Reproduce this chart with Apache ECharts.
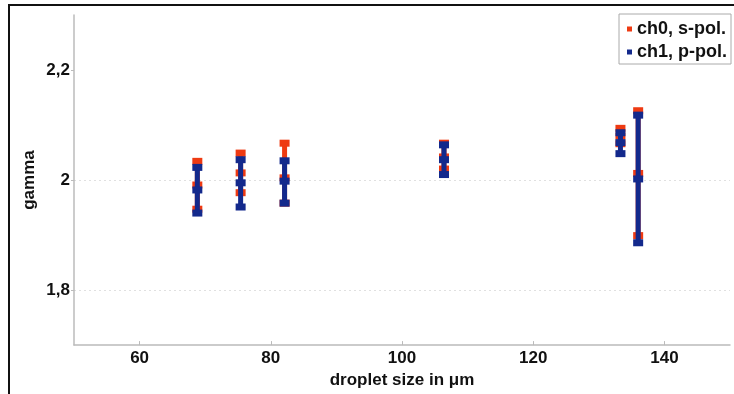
<!DOCTYPE html>
<html><head><meta charset="utf-8">
<script src="https://cdn.jsdelivr.net/npm/echarts@6/dist/echarts.min.js"></script>
<style>html,body{margin:0;padding:0;background:#fff}#c{width:734px;height:394px}</style>
</head><body><div id="c"></div>
<script>
var xValues   = [68.8, 75.4, 82.1, 106.4, 133.3, 136.0];
var ch0Center = [1.991, 2.013, 2.004, 2.042, 2.080, 2.012];
var ch0Low    = [1.947, 1.977, 1.958, 2.020, 2.066, 1.899];
var ch0High   = [2.034, 2.049, 2.067, 2.067, 2.094, 2.126];
var ch1Center = [1.982, 1.995, 1.998, 2.037, 2.068, 2.002];
var ch1Low    = [1.940, 1.951, 1.958, 2.010, 2.048, 1.886];
var ch1High   = [2.023, 2.037, 2.035, 2.064, 2.086, 2.118];
var xTicks = [60, 80, 100, 120, 140];
var yTicks = [1.8, 2, 2.2];
var seriesNames = ['ch0, s-pol.', 'ch1, p-pol.'];
var colors = ['#ee3a12', '#13298c'];
var FONT = "'Liberation Sans Narrow','Liberation Sans',Arial,sans-serif";

function build(center, low, high) {
  return xValues.map(function (x, i) { return [x, center[i], low[i], high[i]]; });
}
function renderErr(color) {
  return function (params, api) {
    var x = api.value(0);
    var c = api.coord([x, api.value(1)]);
    var lo = api.coord([x, api.value(2)]);
    var hi = api.coord([x, api.value(3)]);
    var w = 10, h = 7;
    function sq(p) {
      return { type: 'rect', shape: { x: p[0] - w / 2, y: p[1] - h / 2, width: w, height: h },
        style: { fill: color } };
    }
    return { type: 'group', children: [
      { type: 'line', shape: { x1: c[0], y1: lo[1], x2: c[0], y2: hi[1] },
        style: { stroke: color, lineWidth: 5 } },
      sq(lo), sq(c), sq(hi)
    ] };
  };
}
var chart = echarts.init(document.getElementById('c'), null, { renderer: 'canvas' });
chart.setOption({
  animation: false,
  backgroundColor: '#fff',
  textStyle: { fontFamily: FONT },
  graphic: [{ type: 'rect', shape: { x: 9, y: 5, width: 800, height: 500 },
    style: { fill: 'none', stroke: '#111', lineWidth: 2 }, z: 100 }],
  grid: { left: 74, top: 15, right: 4, bottom: 42 },
  legend: {
    orient: 'vertical', right: 3, top: 14,
    data: [{ name: seriesNames[0], icon: 'rect' }, { name: seriesNames[1], icon: 'rect' }],
    itemWidth: 5, itemHeight: 5, itemGap: 5,
    borderColor: '#aaa', borderWidth: 1, padding: [6, 4, 3, 8],
    backgroundColor: '#fff',
    textStyle: { fontFamily: FONT, fontWeight: 'bold', fontSize: 18, color: '#111' }
  },
  xAxis: {
    type: 'value', min: 50, max: 150,
    name: 'droplet size in μm', nameLocation: 'middle', nameGap: 21,
    nameTextStyle: { fontFamily: FONT, fontWeight: 'bold', fontSize: 17, color: '#111' },
    axisLine: { lineStyle: { color: '#bbb', width: 1.5 } },
    axisTick: { inside: true, length: 4, lineStyle: { color: '#bbb' }, customValues: xTicks },
    axisLabel: { customValues: xTicks, margin: 5, fontFamily: FONT, fontWeight: 'bold', fontSize: 17, color: '#111' },
    splitLine: { show: false }
  },
  yAxis: {
    type: 'value', min: 1.7, max: 2.3,
    name: 'gamma', nameLocation: 'middle', nameGap: 36, nameRotate: 90, nameMoveOverlap: false,
    nameTextStyle: { fontFamily: FONT, fontWeight: 'bold', fontSize: 17, color: '#111' },
    axisLine: { show: true, lineStyle: { color: '#bbb', width: 1.5 } },
    axisTick: { show: true, length: 3, lineStyle: { color: '#bbb' }, customValues: yTicks },
    axisLabel: { customValues: yTicks, margin: 4, fontFamily: FONT, fontWeight: 'bold', fontSize: 17, color: '#111',
      formatter: function (v) { return String(Math.round(v * 10) / 10).replace('.', ','); } },
    splitLine: { show: true, lineStyle: { color: ['#e0e0e0', '#e0e0e0', 'rgba(0,0,0,0)'], type: [2, 3], width: 1 } }
  },
  series: [
    { name: seriesNames[0], type: 'custom', itemStyle: { color: colors[0] },
      renderItem: renderErr(colors[0]), encode: { x: 0, y: [1, 2, 3] }, data: build(ch0Center, ch0Low, ch0High), z: 2 },
    { name: seriesNames[1], type: 'custom', itemStyle: { color: colors[1] },
      renderItem: renderErr(colors[1]), encode: { x: 0, y: [1, 2, 3] }, data: build(ch1Center, ch1Low, ch1High), z: 3 }
  ]
});
</script></body></html>
